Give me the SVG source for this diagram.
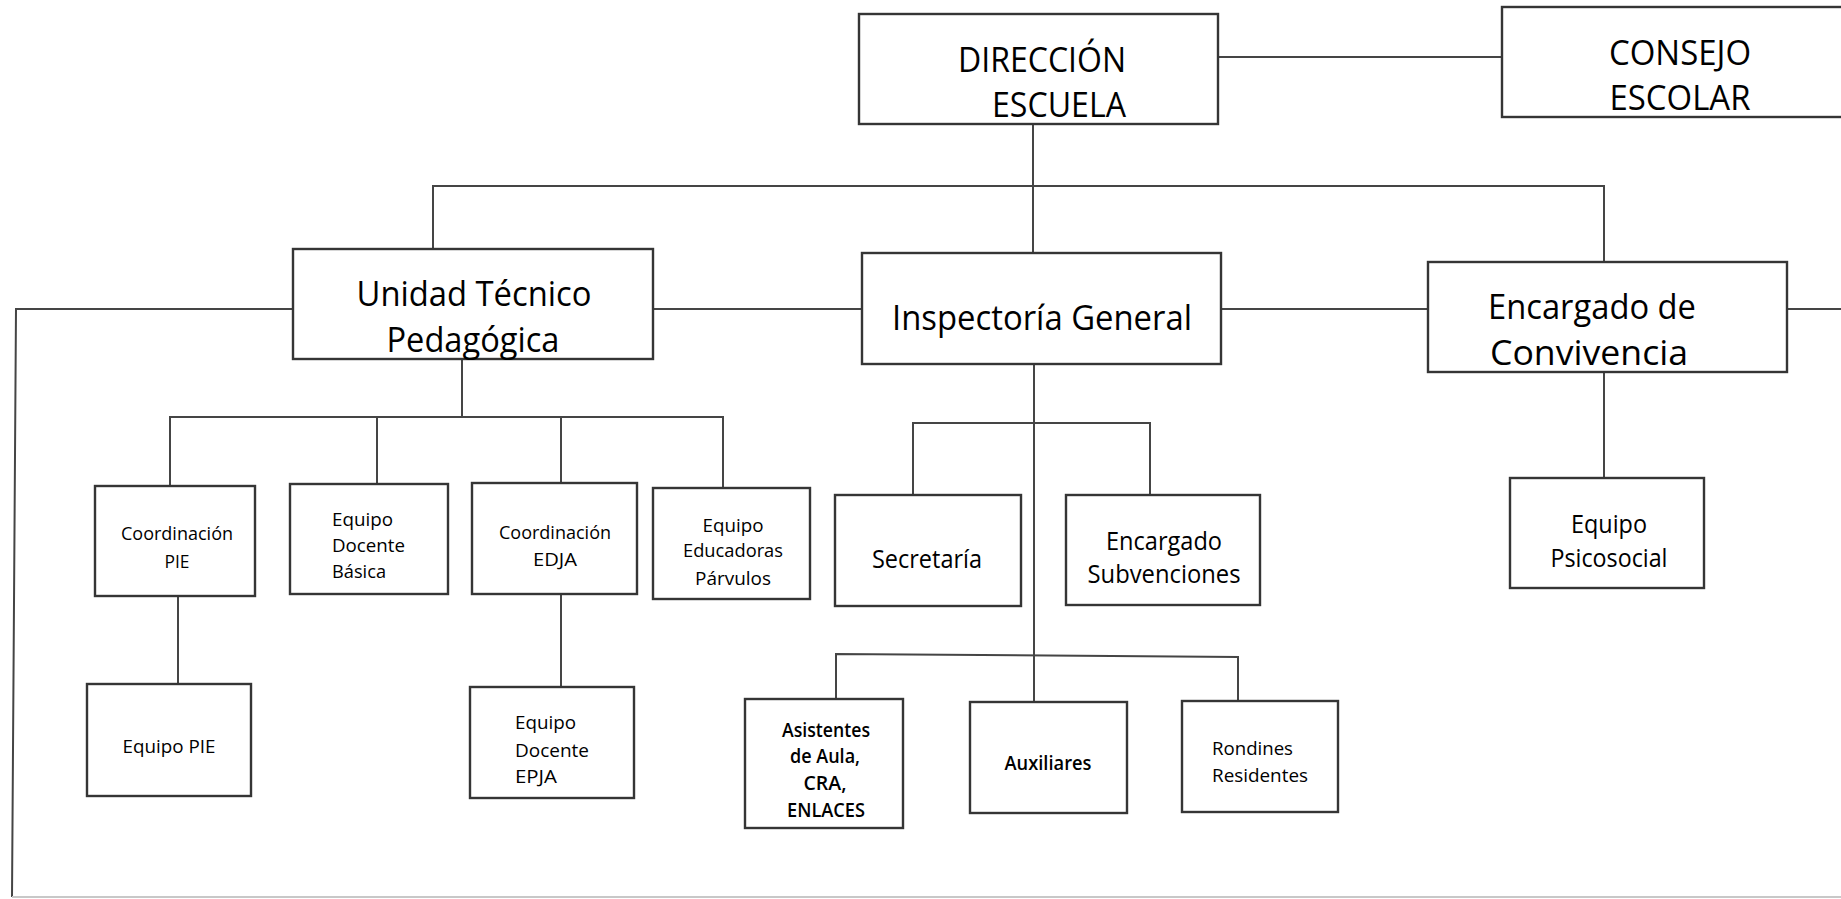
<svg xmlns="http://www.w3.org/2000/svg" width="1841" height="899" viewBox="0 0 1841 899">
<style>
.box{fill:#fff;stroke:#353535;stroke-width:2.4}
.c{stroke:#454545;stroke-width:2;fill:none}
.faint{stroke:#c8c8c8;stroke-width:2;fill:none}
text{font-family:"Open Sans","Liberation Sans",sans-serif;fill:#000;text-anchor:middle}
.L{font-size:34px}
.M{font-size:25px}
.S{font-size:19px}
.B{font-weight:600}
.st{text-anchor:start}
</style>
<rect width="1841" height="899" fill="#fff"/>
<g id="connectors">
<line class="c" x1="1218" y1="57" x2="1502" y2="57"/>
<line class="c" x1="1033" y1="124" x2="1033" y2="253"/>
<polyline class="c" points="433,249 433,186 1604,186 1604,262"/>
<line class="c" x1="653" y1="309" x2="862" y2="309"/>
<line class="c" x1="1221" y1="309" x2="1428" y2="309"/>
<line class="c" x1="1787" y1="309" x2="1841" y2="309"/>
<polyline class="c" points="293,309 16,309 12,897"/>
<line class="faint" x1="12" y1="897" x2="1841" y2="897"/>
<line class="c" x1="462" y1="359" x2="462" y2="417"/>
<polyline class="c" points="170,486 170,417 723,417 723,488"/>
<line class="c" x1="377" y1="417" x2="377" y2="484"/>
<line class="c" x1="561" y1="417" x2="561" y2="483"/>
<line class="c" x1="178" y1="596" x2="178" y2="684"/>
<line class="c" x1="561" y1="594" x2="561" y2="687"/>
<line class="c" x1="1034" y1="364" x2="1034" y2="702"/>
<polyline class="c" points="913,495 913,423 1150,423 1150,495"/>
<polyline class="c" points="836,699 836,654 1238,657 1238,701"/>
<line class="c" x1="1604" y1="372" x2="1604" y2="478"/>
</g>
<g id="direccion">
<rect class="box" x="859" y="14" width="359" height="110"/>
<text class="L" x="1042" y="72" textLength="168" lengthAdjust="spacingAndGlyphs">DIRECCIÓN</text>
<text class="L" x="1059" y="117" textLength="134" lengthAdjust="spacingAndGlyphs">ESCUELA</text>
</g>
<g id="consejo">
<rect class="box" x="1502" y="7" width="360" height="110"/>
<text class="L" x="1680" y="65" textLength="142" lengthAdjust="spacingAndGlyphs">CONSEJO</text>
<text class="L" x="1680" y="110" textLength="141" lengthAdjust="spacingAndGlyphs">ESCOLAR</text>
</g>
<g id="utp">
<rect class="box" x="293" y="249" width="360" height="110"/>
<text class="L" x="474" y="306" textLength="235" lengthAdjust="spacingAndGlyphs">Unidad Técnico</text>
<text class="L" x="473" y="352" textLength="173" lengthAdjust="spacingAndGlyphs">Pedagógica</text>
</g>
<g id="inspectoria">
<rect class="box" x="862" y="253" width="359" height="111"/>
<text class="L" x="1042" y="330" textLength="300" lengthAdjust="spacingAndGlyphs">Inspectoría General</text>
</g>
<g id="convivencia">
<rect class="box" x="1428" y="262" width="359" height="110"/>
<text class="L" x="1592" y="319" textLength="208" lengthAdjust="spacingAndGlyphs">Encargado de</text>
<text class="L" x="1589" y="365" textLength="198" lengthAdjust="spacingAndGlyphs">Convivencia</text>
</g>
<g id="coord-pie">
<rect class="box" x="95" y="486" width="160" height="110"/>
<text class="S" x="177" y="540" textLength="112" lengthAdjust="spacingAndGlyphs">Coordinación</text>
<text class="S" x="177" y="568" textLength="25" lengthAdjust="spacingAndGlyphs">PIE</text>
</g>
<g id="docente-basica">
<rect class="box" x="290" y="484" width="158" height="110"/>
<text class="S st" x="332" y="526" textLength="61" lengthAdjust="spacingAndGlyphs">Equipo</text>
<text class="S st" x="332" y="552" textLength="73" lengthAdjust="spacingAndGlyphs">Docente</text>
<text class="S st" x="332" y="578" textLength="54" lengthAdjust="spacingAndGlyphs">Básica</text>
</g>
<g id="coord-edja">
<rect class="box" x="472" y="483" width="165" height="111"/>
<text class="S" x="555" y="539" textLength="112" lengthAdjust="spacingAndGlyphs">Coordinación</text>
<text class="S" x="555" y="566" textLength="44" lengthAdjust="spacingAndGlyphs">EDJA</text>
</g>
<g id="educadoras">
<rect class="box" x="653" y="488" width="157" height="111"/>
<text class="S" x="733" y="532" textLength="61" lengthAdjust="spacingAndGlyphs">Equipo</text>
<text class="S" x="733" y="557" textLength="100" lengthAdjust="spacingAndGlyphs">Educadoras</text>
<text class="S" x="733" y="585" textLength="76" lengthAdjust="spacingAndGlyphs">Párvulos</text>
</g>
<g id="secretaria">
<rect class="box" x="835" y="495" width="186" height="111"/>
<text class="M" x="927" y="568" textLength="110" lengthAdjust="spacingAndGlyphs">Secretaría</text>
</g>
<g id="subvenciones">
<rect class="box" x="1066" y="495" width="194" height="110"/>
<text class="M" x="1164" y="550" textLength="116" lengthAdjust="spacingAndGlyphs">Encargado</text>
<text class="M" x="1164" y="583" textLength="153" lengthAdjust="spacingAndGlyphs">Subvenciones</text>
</g>
<g id="psicosocial">
<rect class="box" x="1510" y="478" width="194" height="110"/>
<text class="M" x="1609" y="533" textLength="76" lengthAdjust="spacingAndGlyphs">Equipo</text>
<text class="M" x="1609" y="567" textLength="117" lengthAdjust="spacingAndGlyphs">Psicosocial</text>
</g>
<g id="equipo-pie">
<rect class="box" x="87" y="684" width="164" height="112"/>
<text class="S" x="169" y="753" textLength="93" lengthAdjust="spacingAndGlyphs">Equipo PIE</text>
</g>
<g id="docente-epja">
<rect class="box" x="470" y="687" width="164" height="111"/>
<text class="S st" x="515" y="729" textLength="61" lengthAdjust="spacingAndGlyphs">Equipo</text>
<text class="S st" x="515" y="757" textLength="74" lengthAdjust="spacingAndGlyphs">Docente</text>
<text class="S st" x="515" y="783" textLength="42" lengthAdjust="spacingAndGlyphs">EPJA</text>
</g>
<g id="asistentes">
<rect class="box" x="745" y="699" width="158" height="129"/>
<text class="S B" x="826" y="737" textLength="88" lengthAdjust="spacingAndGlyphs">Asistentes</text>
<text class="S B" x="825" y="763" textLength="70" lengthAdjust="spacingAndGlyphs">de Aula,</text>
<text class="S B" x="825" y="790" textLength="43" lengthAdjust="spacingAndGlyphs">CRA,</text>
<text class="S B" x="826" y="817" textLength="78" lengthAdjust="spacingAndGlyphs">ENLACES</text>
</g>
<g id="auxiliares">
<rect class="box" x="970" y="702" width="157" height="111"/>
<text class="S B" x="1048" y="770" textLength="87" lengthAdjust="spacingAndGlyphs">Auxiliares</text>
</g>
<g id="rondines">
<rect class="box" x="1182" y="701" width="156" height="111"/>
<text class="S st" x="1212" y="755" textLength="81" lengthAdjust="spacingAndGlyphs">Rondines</text>
<text class="S st" x="1212" y="782" textLength="96" lengthAdjust="spacingAndGlyphs">Residentes</text>
</g>
</svg>
